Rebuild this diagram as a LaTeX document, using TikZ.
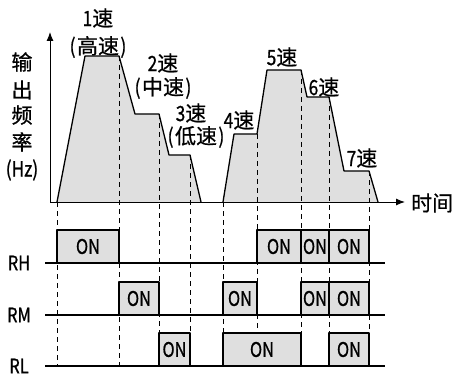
\documentclass[tikz,border=0pt]{standalone}
\usepackage{fontspec}
\setmainfont{Noto Sans CJK SC}[FakeBold=0.8]
\newfontfamily\nar[FakeStretch=0.82,FakeBold=0.8]{Noto Sans CJK SC}
\newcommand{\lp}{{\nar(}\kern1.5pt}
\newcommand{\rp}{\kern1.5pt{\nar)}}
\usetikzlibrary{arrows.meta}
\begin{document}
\begin{tikzpicture}[x=1pt,y=1pt,>={Latex[length=9pt,width=7pt]}, line join=round,
	lab/.style={font=\fontsize{21}{23}\selectfont, inner sep=0pt},
	onbox/.style={draw, line width=1.2pt, fill=gray!25},
	ontext/.style={font=\nar\fontsize{20}{22}\selectfont, inner sep=0pt},
	guide/.style={dash pattern=on 5pt off 4pt, line width=0.9pt},
	sig/.style={line width=1.8pt}]
	\useasboundingbox (0,0) rectangle (454,375);
	% speed profile
	\draw[fill=gray!25, line width=1.3pt] (57,173)--(85,319)--(119,319)--(135,261)--(159,261)--(169,220)--(190,220)--(201,173);
	\draw[fill=gray!25, line width=1.3pt] (223,173)--(234,241)--(257,241)--(267,305)--(301,305)--(307,278)--(329,278)--(344,204)--(369,204)--(378,173);
	% axes
	\coordinate (O) at (50,173);
	\coordinate (ytop) at (50,343);
	\coordinate (xend) at (405,173);
	\draw[->, line width=1pt] (O)--(ytop);
	\draw[->, line width=1pt] (O)--(xend);
	\node[lab, anchor=west] (t) at (411,172) {时间};
	\foreach \t/\y [count=\i] in {输/313,出/285,频/260,率/233,{\nar(Hz)}/205}{
		\node[lab] (f\i) at (22,\y) {\t};
	}
	% speed labels
	\node[lab] (s1) at (98,357) {{\nar 1}速};
	\node[lab] (s1b) at (98,328) {\lp 高速\rp};
	\node[lab] (s2) at (163,312) {{\nar 2}速};
	\node[lab] (s2b) at (163,287) {\lp 中速\rp};
	\node[lab] (s3) at (191,262) {{\nar 3}速};
	\node[lab] (s3b) at (196,238) {\lp 低速\rp};
	\node[lab] (s4) at (239,255) {{\nar 4}速};
	\node[lab] (s5) at (282,318) {{\nar 5}速};
	\node[lab] (s6) at (324,288) {{\nar 6}速};
	\node[lab] (s7) at (362,217) {{\nar 7}速};
	% guide lines
	\foreach \x/\y in {57/173,119/319,159/261,190/220,223/173,257/241,301/305,329/278,369/204}{
		\draw[guide] (\x,\y)--(\x,9);
	}
	% switching signals
	\foreach \a/\b in {57/119,257/301,301/329,329/369}{
		\draw[onbox] (\a,112) rectangle node[ontext] (rh\a) {ON} (\b,145);
	}
	\foreach \a/\b in {119/159,223/257,301/329,329/369}{
		\draw[onbox] (\a,60) rectangle node[ontext] (rm\a) {ON} (\b,93);
	}
	\foreach \a/\b in {159/190,223/301,329/369}{
		\draw[onbox] (\a,9) rectangle node[ontext] (rl\a) {ON} (\b,42);
	}
	\foreach \n/\y in {RH/112,RM/60,RL/9}{
		\node[ontext] (l\n) at (19,\y) {\n};
		\draw[sig] (45,\y)--(385,\y);
	}
\end{tikzpicture}
\end{document}
